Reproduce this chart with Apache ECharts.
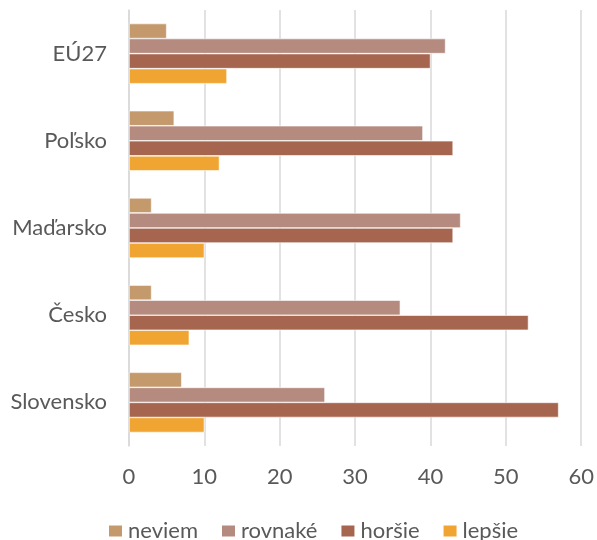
<!DOCTYPE html>
<html>
<head>
<meta charset="utf-8">
<script src="https://cdn.jsdelivr.net/npm/echarts@6/dist/echarts.min.js"></script>
<style>
  html, body { margin: 0; padding: 0; background: #fff; }
  #chart { width: 597px; height: 540px; }
</style>
</head>
<body>
<div id="chart"></div>
<script>
// categories from bottom to top
const krajiny = ['Slovensko', 'Česko', 'Maďarsko', 'Poľsko', 'EÚ27']
const neviem = [7, 3, 3, 6, 5]
const rovnake = [26, 36, 44, 39, 42]
const horsie = [57, 53, 43, 43, 40]
const lepsie = [10, 8, 10, 12, 13]
const xTicks = [0, 10, 20, 30, 40, 50, 60]

const farby = {
  neviem: '#C49A6C',
  rovnaké: '#B58B7F',
  horšie: '#A5654E',
  lepšie: '#F0A431'
}

const font = 'Lato, "Open Sans", sans-serif'

function bar (name, data) {
  return {
    name: name,
    type: 'bar',
    data: data,
    barGap: '0%',
    barCategoryGap: '31%',
    itemStyle: { color: farby[name], borderColor: '#fff', borderWidth: 0.6 }
  }
}

const chart = echarts.init(document.getElementById('chart'))
chart.setOption({
  animation: false,
  textStyle: { fontFamily: font },
  grid: { left: 129, right: 15, top: 10, bottom: 94, containLabel: false },
  legend: {
    data: ['neviem', 'rovnaké', 'horšie', 'lepšie'],
    top: 515,
    left: 102,
    icon: 'rect',
    itemWidth: 15,
    itemHeight: 13,
    itemGap: 22,
    textStyle: { fontSize: 22, color: '#595959', fontFamily: font, padding: [0, 0, 0, 0] }
  },
  xAxis: {
    type: 'value',
    min: xTicks[0],
    max: xTicks[xTicks.length - 1],
    interval: 10,
    axisLine: { show: false },
    axisTick: { show: false },
    axisLabel: { fontSize: 22, color: '#595959', margin: 20, fontFamily: font },
    splitLine: { lineStyle: { color: '#D9D9D9', width: 1.5 } }
  },
  yAxis: {
    type: 'category',
    data: krajiny,
    axisLine: { show: true, lineStyle: { color: '#D9D9D9', width: 1.5 } },
    axisTick: { show: false },
    axisLabel: { fontSize: 22, color: '#595959', margin: 22, fontFamily: font }
  },
  series: [
    bar('neviem', neviem),
    bar('rovnaké', rovnake),
    bar('horšie', horsie),
    bar('lepšie', lepsie)
  ]
})
</script>
</body>
</html>
